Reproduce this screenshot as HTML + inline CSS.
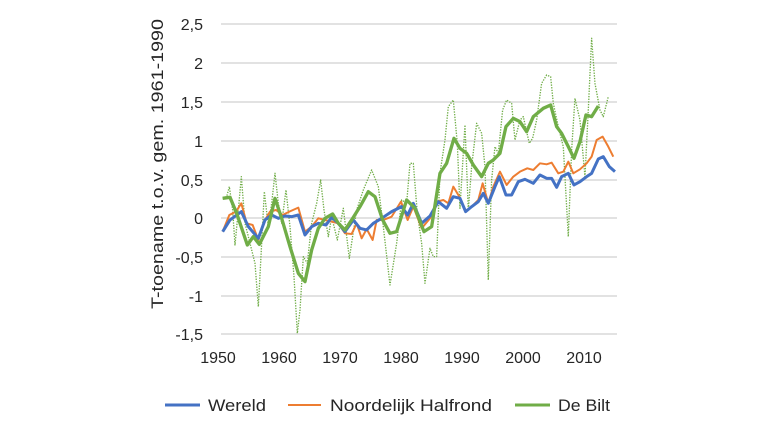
<!DOCTYPE html>
<html><head><meta charset="utf-8"><style>
body{margin:0;background:#fff;width:768px;height:432px;overflow:hidden;font-family:"Liberation Sans",sans-serif;}
</style></head><body>
<svg width="768" height="432" xmlns="http://www.w3.org/2000/svg" font-family="Liberation Sans, sans-serif" fill="#262626">
<g stroke="#d9d9d9" stroke-width="1.5">
<line x1="221" x2="617" y1="24" y2="24"/><line x1="221" x2="617" y1="63" y2="63"/><line x1="221" x2="617" y1="102" y2="102"/><line x1="221" x2="617" y1="141" y2="141"/><line x1="221" x2="617" y1="180" y2="180"/><line x1="221" x2="617" y1="218" y2="218"/><line x1="221" x2="617" y1="257" y2="257"/><line x1="221" x2="617" y1="296" y2="296"/><line x1="221" x2="617" y1="334" y2="334"/>
</g>
<g font-size="16" text-anchor="end">
<text x="203" y="30">2,5</text><text x="203" y="69">2</text><text x="203" y="108">1,5</text><text x="203" y="147">1</text><text x="203" y="186">0,5</text><text x="203" y="224">0</text><text x="203" y="263">-0,5</text><text x="203" y="302">-1</text><text x="203" y="340">-1,5</text>
</g>
<g font-size="16" text-anchor="middle">
<text x="218" y="363">1950</text><text x="279" y="363">1960</text><text x="340" y="363">1970</text><text x="401" y="363">1980</text><text x="462" y="363">1990</text><text x="523" y="363">2000</text><text x="584" y="363">2010</text>
</g>
<text transform="translate(163,164) rotate(-90)" font-size="17" text-anchor="middle" textLength="290" lengthAdjust="spacingAndGlyphs">T-toename t.o.v. gem. 1961-1990</text>
<g transform="translate(200,10) scale(0.3333)" fill="none" stroke-linejoin="round">
<polyline stroke="#70ad47" stroke-width="4" stroke-dasharray="4,4" points="68,565 80,560 88,530 98,600 105,705 115,600 124,500 135,640 150,700 165,760 175,890 185,700 193,545 205,650 215,580 225,490 235,580 245,640 258,540 270,650 282,800 292,970 300,900 310,740 322,760 335,640 350,580 362,510 372,600 385,680 395,620 412,690 430,595 448,745 470,600 490,540 515,480 535,530 550,650 570,825 590,700 605,570 620,580 630,460 640,460 652,610 665,700 675,820 690,715 700,740 710,740 720,490 735,390 745,290 760,270 772,400 780,595 795,345 805,600 815,470 830,340 845,370 855,470 865,810 875,510 885,410 895,430 908,300 920,270 935,280 945,390 960,330 970,320 988,400 998,385 1010,330 1025,220 1040,195 1052,200 1060,280 1075,350 1090,410 1105,680 1115,420 1125,265 1140,330 1155,500 1165,300 1175,85 1185,220 1200,300 1210,320 1225,260"/>
<polyline stroke="#ed7d31" stroke-width="6" points="68,665 88,615 108,605 124,580 140,640 158,645 175,690 195,630 210,605 228,600 248,615 268,605 295,593 315,665 335,650 355,625 375,630 395,635 415,640 435,670 455,672 470,640 485,685 500,657 518,690 530,630 550,630 575,620 603,575 623,630 640,590 665,655 690,625 712,575 730,570 745,580 760,530 778,560 797,603 815,590 835,570 848,520 865,580 880,530 900,485 920,525 940,500 960,485 982,475 1000,480 1020,460 1040,463 1055,458 1075,490 1090,485 1105,455 1120,490 1140,478 1160,460 1175,440 1190,390 1208,380 1225,410 1240,440"/>
<polyline stroke="#4472c4" stroke-width="9" points="68,665 90,630 124,605 145,650 175,685 195,630 215,615 235,625 255,618 275,620 295,615 315,675 335,650 355,640 378,645 395,622 415,640 435,665 460,630 480,655 500,660 520,640 545,625 575,605 605,590 623,615 640,580 665,640 690,618 715,575 740,595 760,560 780,565 797,605 815,590 835,575 850,550 865,580 885,530 898,500 918,555 935,555 955,515 975,508 1000,520 1020,495 1040,505 1055,505 1070,532 1085,500 1105,490 1122,525 1140,515 1160,500 1175,490 1195,447 1210,440 1228,470 1245,485"/>
<polyline stroke="#70ad47" stroke-width="10" points="68,565 90,562 110,610 142,705 160,680 178,703 205,650 225,565 245,625 270,710 295,790 315,815 335,720 355,655 375,625 398,612 415,640 435,660 455,630 480,590 505,545 525,560 548,630 570,670 590,665 620,570 645,595 672,665 695,650 720,490 740,460 762,385 780,415 800,430 820,465 845,500 865,460 880,450 900,430 918,350 940,325 960,335 980,365 1000,320 1030,295 1052,285 1070,350 1085,370 1105,410 1122,445 1140,395 1158,315 1175,320 1195,288"/>
</g>
<g font-size="17">
<line x1="165" x2="200" y1="405" y2="405" stroke="#4472c4" stroke-width="3"/><text x="208" y="411" textLength="58" lengthAdjust="spacingAndGlyphs">Wereld</text>
<line x1="288" x2="321" y1="405" y2="405" stroke="#ed7d31" stroke-width="2"/><text x="330" y="411" textLength="162" lengthAdjust="spacingAndGlyphs">Noordelijk Halfrond</text>
<line x1="515" x2="550" y1="405" y2="405" stroke="#70ad47" stroke-width="3"/><text x="558" y="411" textLength="52" lengthAdjust="spacingAndGlyphs">De Bilt</text>
</g>
</svg>
</body></html>
